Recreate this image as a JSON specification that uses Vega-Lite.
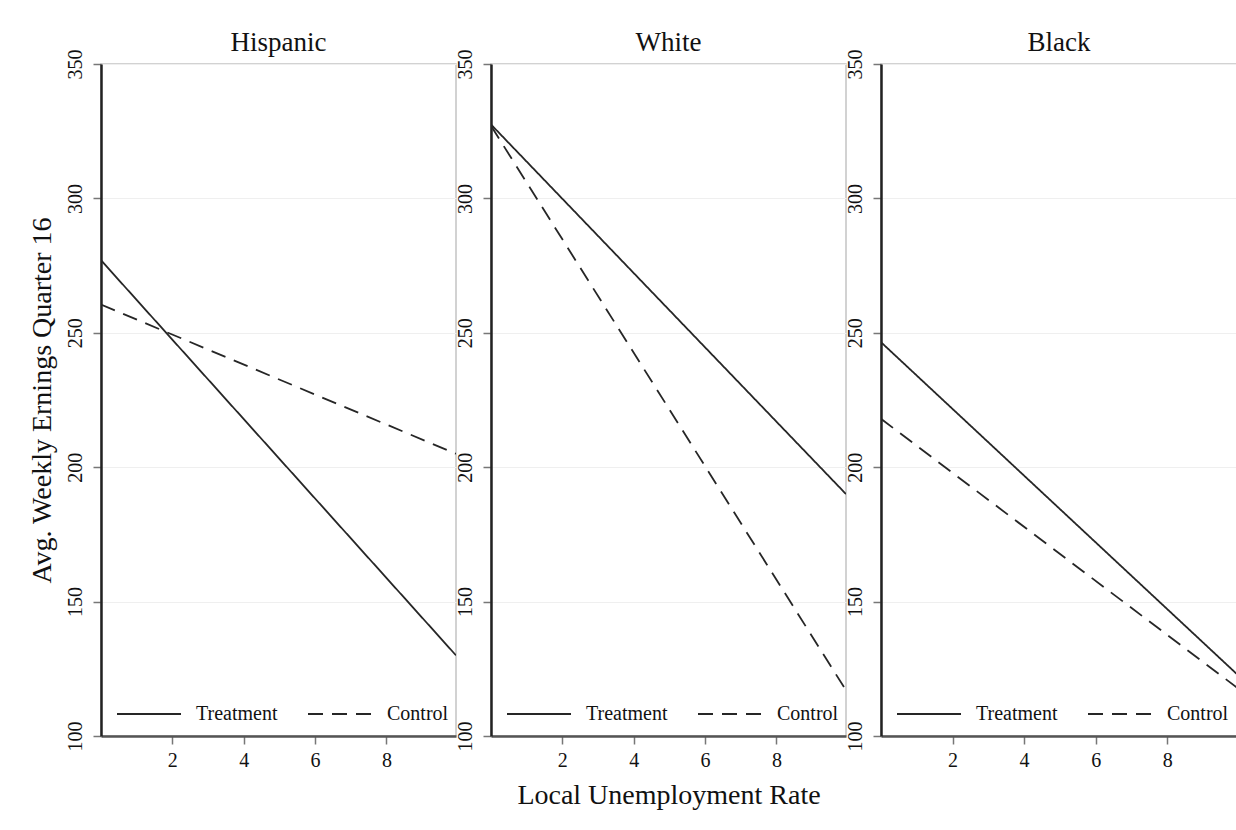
{
  "$schema": "https://vega.github.io/schema/vega-lite/v6.json",
  "background": "white",
  "padding": {"left": 27, "top": 28, "right": 0, "bottom": 5},
  "data": {
    "values": [
      {"race": "Hispanic", "group": "Treatment", "x": 0, "y": 277},
      {"race": "Hispanic", "group": "Treatment", "x": 9.95, "y": 130},
      {"race": "Hispanic", "group": "Control", "x": 0, "y": 260.5},
      {"race": "Hispanic", "group": "Control", "x": 9.95, "y": 205},
      {"race": "White", "group": "Treatment", "x": 0, "y": 327.5},
      {"race": "White", "group": "Treatment", "x": 9.95, "y": 190},
      {"race": "White", "group": "Control", "x": 0, "y": 327},
      {"race": "White", "group": "Control", "x": 9.95, "y": 117},
      {"race": "Black", "group": "Treatment", "x": 0, "y": 246.5},
      {"race": "Black", "group": "Treatment", "x": 9.95, "y": 123},
      {"race": "Black", "group": "Control", "x": 0, "y": 218},
      {"race": "Black", "group": "Control", "x": 9.95, "y": 118}
    ]
  },
  "spacing": 35,
  "bounds": "flush",
  "resolve": {"scale": {"strokeDash": "independent"}, "legend": {"strokeDash": "independent"}},
  "hconcat": [
    {
      "title": {"text": "Hispanic"},
      "width": 355,
      "height": 672,
      "transform": [{"filter": "datum.race === 'Hispanic'"}],
      "mark": {"type": "line", "color": "#262626", "strokeWidth": 1.8, "clip": true},
      "encoding": {
        "x": {"field": "x", "type": "quantitative", "scale": {"domain": [0, 9.95], "nice": false, "zero": false},
              "axis": {"title": null, "values": [2, 4, 6, 8]}},
        "y": {"field": "y", "type": "quantitative", "scale": {"domain": [100, 350], "nice": false, "zero": false},
              "axis": {"title": "Avg. Weekly Ernings Quarter 16", "values": [100, 150, 200, 250, 300, 350]}},
        "strokeDash": {"field": "group", "type": "nominal",
              "scale": {"domain": ["Treatment", "Control"], "range": [[1, 0], [15, 9]]},
              "legend": {"title": null, "orient": "none", "legendX": 15, "legendY": 617, "direction": "horizontal"}}
      }
    },
    {
      "title": {"text": "White"},
      "width": 355,
      "height": 672,
      "transform": [{"filter": "datum.race === 'White'"}],
      "mark": {"type": "line", "color": "#262626", "strokeWidth": 1.8, "clip": true},
      "encoding": {
        "x": {"field": "x", "type": "quantitative", "scale": {"domain": [0, 9.95], "nice": false, "zero": false},
              "axis": {"title": "Local Unemployment Rate", "values": [2, 4, 6, 8]}},
        "y": {"field": "y", "type": "quantitative", "scale": {"domain": [100, 350], "nice": false, "zero": false},
              "axis": {"title": null, "values": [100, 150, 200, 250, 300, 350]}},
        "strokeDash": {"field": "group", "type": "nominal",
              "scale": {"domain": ["Treatment", "Control"], "range": [[1, 0], [15, 9]]},
              "legend": {"title": null, "orient": "none", "legendX": 15, "legendY": 617, "direction": "horizontal"}}
      }
    },
    {
      "title": {"text": "Black"},
      "width": 356,
      "height": 672,
      "transform": [{"filter": "datum.race === 'Black'"}],
      "mark": {"type": "line", "color": "#262626", "strokeWidth": 1.8, "clip": true},
      "encoding": {
        "x": {"field": "x", "type": "quantitative", "scale": {"domain": [0, 9.95], "nice": false, "zero": false},
              "axis": {"title": null, "values": [2, 4, 6, 8]}},
        "y": {"field": "y", "type": "quantitative", "scale": {"domain": [100, 350], "nice": false, "zero": false},
              "axis": {"title": null, "values": [100, 150, 200, 250, 300, 350]}},
        "strokeDash": {"field": "group", "type": "nominal",
              "scale": {"domain": ["Treatment", "Control"], "range": [[1, 0], [15, 9]]},
              "legend": {"title": null, "orient": "none", "legendX": 15, "legendY": 617, "direction": "horizontal"}}
      }
    }
  ],
  "config": {
    "font": "Liberation Serif",
    "view": {"stroke": "#c4c4c4", "strokeWidth": 1.5},
    "title": {"fontSize": 27, "fontWeight": "normal", "color": "#111", "font": "Liberation Serif", "anchor": "middle", "offset": -8},
    "axis": {
      "labelFont": "Liberation Serif", "titleFont": "Liberation Serif",
      "labelFontSize": 20, "titleFontSize": 28, "titleFontWeight": "normal",
      "labelColor": "#111", "titleColor": "#111",
      "domainColor": "#3a3a3a", "domainWidth": 2.5,
      "tickColor": "#777", "tickSize": 8, "tickWidth": 1.5,
      "gridColor": "#efefef", "gridWidth": 1
    },
    "axisY": {"labelAngle": -90, "labelAlign": "center", "labelBaseline": "bottom", "labelPadding": 8, "titlePadding": 9, "grid": true, "domainColor": "#222"},
    "axisX": {"grid": false, "labelPadding": 6, "titlePadding": 11, "domainColor": "#555"},
    "legend": {
      "labelFont": "Liberation Serif", "labelFontSize": 20, "labelColor": "#111",
      "symbolType": "stroke", "symbolSize": 4096, "symbolStrokeWidth": 1.8, "symbolStrokeColor": "#262626",
      "labelOffset": 14, "columnPadding": 26, "symbolOffset": 0
    }
  }
}
